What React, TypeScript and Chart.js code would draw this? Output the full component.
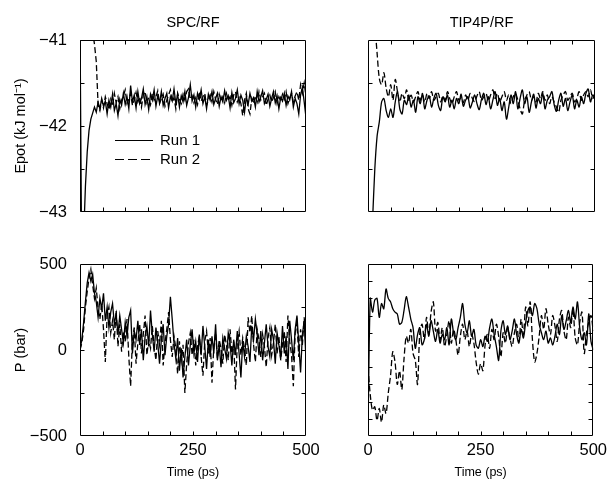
import React, { useEffect, useRef } from 'react';
import { Chart, registerables } from 'chart.js';

Chart.register(...registerables);

const FONT = '"Liberation Sans", Arial, Helvetica, sans-serif';
const W = 612;
const H = 481;

// ---------- labels ----------
const RUN_LABELS = ['Run 1', 'Run 2'];
const PANEL_TITLES = ['SPC/RF', 'TIP4P/RF'];
const X_TITLE = 'Time (ps)';
const EPOT_TITLE = 'Epot (kJ mol\u207B\u00B9)';
const P_TITLE = 'P (bar)';
const X_TICK_LABELS = [0, 250, 500];
const EPOT_TICK_LABELS = [-43, -42, -41];
const P_TICK_LABELS = [-500, 0, 500];

// ---------- sampling grids (ps) ----------
const TIME_SPC = Array.from({ length: 126 }, (_, i) => i * 4);
const TIME_TIP = Array.from({ length: 101 }, (_, i) => i * 5);

// ---------- SPC/RF potential energy (kJ/mol), every 4 ps ----------
const SPC_EPOT_RUN1 = [
  -40.8, -43.8, -43.3, -42.7, -42.3, -42.05, -41.92, -41.85,
  -41.78, -41.84, -41.72, -41.8, -41.68, -41.77, -41.71, -41.86,
  -41.7, -41.78, -41.63, -41.82, -41.74, -41.88, -41.69, -41.76,
  -41.62, -41.75, -41.66, -41.8, -41.53, -41.72, -41.64, -41.79,
  -41.6, -41.74, -41.68, -41.57, -41.75, -41.66, -41.81, -41.63,
  -41.7, -41.58, -41.77, -41.65, -41.73, -41.6, -41.76, -41.68,
  -41.62, -41.79, -41.66, -41.71, -41.57, -41.74, -41.63, -41.78,
  -41.65, -41.72, -41.6, -41.76, -41.67, -41.52, -41.71, -41.64,
  -41.78, -41.62, -41.69, -41.58, -41.74, -41.66, -41.8, -41.63,
  -41.7, -41.6, -41.75, -41.68, -41.62, -41.77, -41.66, -41.72,
  -41.59, -41.7, -41.65, -41.79, -41.61, -41.73, -41.68, -41.58,
  -41.74, -41.64, -41.7, -41.84, -41.66, -41.75, -41.62, -41.71,
  -41.67, -41.78, -41.6, -41.72, -41.66, -41.59, -41.74, -41.69,
  -41.63, -41.77, -41.68, -41.6, -41.73, -41.65, -41.8, -41.67,
  -41.71, -41.62, -41.76, -41.65, -41.7, -41.6, -41.78, -41.68,
  -41.74, -41.86, -41.64, -41.55, -41.72, -41.9,
];
const SPC_EPOT_RUN2 = [
  -39.0, -39.6, -40.0, -40.3, -40.5, -40.65, -40.78, -40.9,
  -41.05, -41.25, -41.75, -41.82, -41.7, -41.79, -41.66, -41.74,
  -41.81, -41.69, -41.77, -41.62, -41.73, -41.66, -41.8, -41.7,
  -41.65, -41.58, -41.74, -41.69, -41.62, -41.76, -41.7, -41.61,
  -41.72, -41.66, -41.78, -41.64, -41.6, -41.73, -41.67, -41.75,
  -41.62, -41.7, -41.66, -41.59, -41.74, -41.68, -41.63, -41.77,
  -41.7, -41.64, -41.58, -41.72, -41.67, -41.8, -41.62, -41.69,
  -41.74, -41.63, -41.7, -41.6, -41.57, -41.69, -41.65, -41.73,
  -41.67, -41.75, -41.6, -41.71, -41.66, -41.62, -41.76, -41.7,
  -41.64, -41.72, -41.6, -41.69, -41.75, -41.63, -41.71, -41.66,
  -41.73, -41.62, -41.7, -41.66, -41.76, -41.64, -41.6, -41.72,
  -41.67, -41.74, -41.88, -41.7, -41.62, -41.8, -41.86, -41.68,
  -41.74, -41.65, -41.72, -41.6, -41.7, -41.66, -41.62, -41.76,
  -41.69, -41.64, -41.72, -41.67, -41.6, -41.74, -41.66, -41.71,
  -41.63, -41.69, -41.6, -41.74, -41.67, -41.62, -41.72, -41.65,
  -41.6, -41.7, -41.52, -41.62, -41.5, -41.66,
];

// ---------- TIP4P/RF potential energy (kJ/mol), every 5 ps ----------
const TIP_EPOT_RUN1 = [
  -44.5, -43.6, -43.1, -42.5, -42.12, -41.95, -41.72, -41.68, -41.82, -41.9, -41.8,
  -41.9, -41.72, -41.6, -41.8, -41.86, -41.7, -41.75, -41.64, -41.78, -41.7,
  -41.84, -41.66, -41.74, -41.62, -41.8, -41.7, -41.65, -41.78, -41.68, -41.62,
  -41.76, -41.82, -41.66, -41.72, -41.64, -41.78, -41.7, -41.8, -41.68, -41.74,
  -41.63, -41.77, -41.7, -41.66, -41.79, -41.72, -41.64, -41.74, -41.81, -41.69,
  -41.62, -41.75, -41.66, -41.8, -41.7, -41.6, -41.76, -41.68, -41.82, -41.72,
  -41.92, -41.78, -41.64, -41.74, -41.6, -41.8, -41.68, -41.58, -41.74, -41.66,
  -41.84, -41.72, -41.63, -41.79, -41.68, -41.74, -41.62, -41.8, -41.7, -41.66,
  -41.6, -41.75, -41.83, -41.7, -41.62, -41.77, -41.68, -41.82, -41.72, -41.64,
  -41.8, -41.7, -41.78, -41.66, -41.74, -41.62, -41.57, -41.72, -41.64, -41.68,
];
const TIP_EPOT_RUN2 = [
  -38.0, -39.5, -40.3, -40.8, -41.15, -41.45, -41.52, -41.38, -41.56, -41.66, -41.52,
  -41.7, -41.46, -41.6, -41.72, -41.62, -41.68, -41.58, -41.7, -41.64, -41.72,
  -41.66, -41.6, -41.7, -41.64, -41.72, -41.62, -41.68, -41.6, -41.7, -41.66,
  -41.62, -41.72, -41.65, -41.7, -41.6, -41.68, -41.74, -41.66, -41.6, -41.7,
  -41.67, -41.73, -41.64, -41.7, -41.62, -41.68, -41.72, -41.65, -41.6, -41.7,
  -41.66, -41.62, -41.71, -41.64, -41.58, -41.68, -41.62, -41.72, -41.66, -41.6,
  -41.7, -41.64, -41.74, -41.66, -41.62, -41.7, -41.8, -41.86, -41.7, -41.64,
  -41.6, -41.7, -41.66, -41.72, -41.62, -41.68, -41.6, -41.7, -41.64, -41.74,
  -41.66, -41.72, -41.78, -41.84, -41.7, -41.64, -41.6, -41.7, -41.66, -41.62,
  -41.72, -41.68, -41.6, -41.7, -41.64, -41.6, -41.66, -41.58, -41.68, -41.62,
];

// ---------- SPC/RF pressure (bar), every 4 ps ----------
const SPC_P_RUN1 = [
  0, 60, 160, 280, 390, 450, 400, 440,
  330, 280, 190, 300, 240, 330, 170, 250,
  130, 220, 270, 150, 210, 90, 200, 120,
  40, 160, 80, 190, 230, -20, 110, 60,
  170, 30, 120, -60, 80, 140, 20, 230,
  90, -10, 130, 40, -80, 60, 150, -30,
  80, 150, 310, 180, 40, -50, 70, -120,
  10, -160, -40, 60, -90, 30, 120, -20,
  50, -70, 90, -30, 140, 20, -110, 60,
  -40, 80, -20, 150, -60, 30, -100, 70,
  10, -50, 100, 40, -90, 60, -30, 110,
  -20, -160, 50, -40, 80, 20, -70, 140,
  60, 180, 90, -30, 110, -60, 40, 150,
  20, -40, 120, 60, -80, 100, 30, -50,
  140, -20, 80, -110, 170, 60, -60, 120,
  200, 40, -130, 90, 170, -60,
];
const SPC_P_RUN2 = [
  0, 40, 120, 250, 340, 420, 470, 380,
  300, 360, 240, 180, 270, 120, -70, 200,
  250, 100, 170, 60, 230, 20, 150, -10,
  110, 50, 180, -40, -210, 60, 130, -80,
  40, 150, -20, 90, 200, -30, 60, 10,
  140, 20, -60, 110, 30, 170, -90, 40,
  120, 220, 60, -40, 80, 10, -140, 50,
  -60, 30, -250, -80, 40, 100, -30, 60,
  -90, 20, 80, -40, -150, 50, 110, -20,
  70, -190, 20, 100, -50, 60, 10, -80,
  90, 30, -60, 120, -20, 50, -230, 40,
  110, -30, 70, 10, -90, 190, 100, 200,
  30, -70, 120, 60, -40, 90, 20, -100,
  70, 130, -30, 40, 150, -20, 80, -60,
  30, 110, -70, 200, 50, -30, -210, 100,
  160, -40, 120, 30, 190, 20,
];

// ---------- TIP4P/RF pressure (bar), every 5 ps ----------
const TIP_P_RUN1 = [
  -480, 300, 220, 290, 300, 190, 270, 240, 355, 300, 280,
  240, 220, 210, 150, 160, 230, 310, 250, 180, 130,
  10, 90, 130, 30, 60, 150, 80, 170, 110, 50,
  120, 40, 90, 60, 130, 30, 180, 100, 60, 130,
  190, 270, 150, 100, 170, 80, 120, 30, 10, 60,
  20, 80, 50, 130, 180, 90, 20, -60, 110, 170,
  90, 140, 60, 110, 180, 90, 40, 120, 70, 160,
  230, 250, 200, 270, 240, 150, 100, 60, 110, 40,
  70, 30, 80, 150, 90, 200, 120, 170, 230, 160,
  250, 180, 280, 130, 60, 100, 30, 210, 50, 0,
];
const TIP_P_RUN2 = [
  -100, -260, -350, -330, -410, -340, -420, -320, -370, -250, -150,
  -10, -70, -200, -120, -230, -50, 80, 40, 120, -20,
  -60, -200, 100, 150, 60, 190, 90, 220, 280, 110,
  160, 60, 130, 20, 90, 170, 40, 120, 60, -30,
  80, 150, 60, 110, 20, 90, 40, -70, -140, -80,
  -120, 30, 90, 10, 120, 60, 150, 80, -40, 100,
  40, 130, 70, 20, 100, 150, 50, 180, 90, 250,
  140, 280, 60, -70, -20, 80, 200, 120, 240, 150,
  90, 200, 140, 50, 180, 230, 110, 60, 190, 130,
  240, 70, 30, 160, 220, -20, 100, 160, 200, 110,
];

// ---------- drawing helpers ----------
const fmt = (v: number) => (v < 0 ? '\u2212' + Math.abs(v) : String(v));
const near = (list: number[], v: number) => list.find((l) => Math.abs(l - v) < 1e-6);

const decoPlugin = {
  id: 'panelDeco',
  afterDatasetsDraw(chart: any, _args: any, opts: any) {
    const { ctx, chartArea: a } = chart;
    const xs = chart.scales.x;
    const ys = chart.scales.y;
    ctx.save();
    ctx.strokeStyle = '#000';
    ctx.lineWidth = 1;
    ctx.setLineDash([]);
    ctx.beginPath();
    const L = Math.round(a.left) + 0.5;
    const R = Math.round(a.right) - 0.5;
    const T = Math.round(a.top) + 0.5;
    const B = Math.round(a.bottom) - 0.5;
    ctx.rect(L, T, R - L, B - T);
    const len = 4;
    xs.ticks.forEach((t: any) => {
      const px = Math.round(xs.getPixelForValue(t.value)) + 0.5;
      if (px <= L + 1 || px >= R - 1) return;
      ctx.moveTo(px, T);
      ctx.lineTo(px, T + len);
      ctx.moveTo(px, B);
      ctx.lineTo(px, B - len);
    });
    ys.ticks.forEach((t: any) => {
      const py = Math.round(ys.getPixelForValue(t.value)) + 0.5;
      if (py <= T + 1 || py >= B - 1) return;
      ctx.moveTo(L, py);
      ctx.lineTo(L + len, py);
      ctx.moveTo(R, py);
      ctx.lineTo(R - len, py);
    });
    ctx.stroke();

    ctx.fillStyle = '#000';
    if (opts.title) {
      ctx.font = `14.5px ${FONT}`;
      ctx.textAlign = 'center';
      ctx.textBaseline = 'middle';
      ctx.fillText(opts.title, (a.left + a.right) / 2, a.top - 17);
    }
    if (opts.legend) {
      ctx.font = `15px ${FONT}`;
      ctx.textAlign = 'left';
      ctx.textBaseline = 'middle';
      chart.data.datasets.forEach((ds: any, i: number) => {
        const y = Math.round(a.top + 100 + i * 19) + 0.5;
        ctx.beginPath();
        ctx.lineWidth = 1.2;
        ctx.setLineDash(i === 0 ? [] : [9, 4]);
        ctx.moveTo(a.left + 35, y);
        ctx.lineTo(a.left + 73, y);
        ctx.stroke();
        ctx.setLineDash([]);
        ctx.fillText(ds.label, a.left + 80, y);
      });
    }
    ctx.restore();
  },
};

type PanelCfg = {
  area: { left: number; right: number; top: number; bottom: number };
  showX: boolean;
  showY: boolean;
  yMin: number;
  yMax: number;
  yStep: number;
  yLabels: number[];
  yTitle: string;
  time: number[];
  run1: number[];
  run2: number[];
  tension: number;
  title?: string;
  legend?: boolean;
};

const Y_AXIS_W = 80;
const X_AXIS_H = 45;

function Panel({ cfg }: { cfg: PanelCfg }) {
  const ref = useRef<HTMLCanvasElement | null>(null);
  useEffect(() => {
    if (!ref.current) return;
    const a = cfg.area;
    const mk = (vals: number[]) => cfg.time.map((t, i) => ({ x: t, y: vals[i] }));
    const chart = new Chart(ref.current, {
      type: 'line',
      data: {
        datasets: [
          {
            label: RUN_LABELS[0],
            data: mk(cfg.run1),
            borderColor: '#000',
            borderWidth: 1.3,
            pointRadius: 0,
            tension: cfg.tension,
            borderDash: [],
          },
          {
            label: RUN_LABELS[1],
            data: mk(cfg.run2),
            borderColor: '#000',
            borderWidth: 1.3,
            pointRadius: 0,
            tension: cfg.tension,
            borderDash: [6, 3],
          },
        ],
      },
      options: {
        animation: false,
        responsive: false,
        maintainAspectRatio: false,
        events: [],
        layout: {
          padding: {
            left: cfg.showY ? a.left - Y_AXIS_W : a.left,
            right: W - a.right,
            top: a.top,
            bottom: cfg.showX ? H - a.bottom - X_AXIS_H : H - a.bottom,
          },
        },
        scales: {
          x: {
            type: 'linear',
            min: 0,
            max: 500,
            grid: { display: false, drawTicks: false },
            border: { display: false },
            ticks: {
              display: cfg.showX,
              stepSize: 50,
              autoSkip: false,
              maxRotation: 0,
              padding: 5,
              color: '#000',
              font: { family: FONT, size: 16.5 },
              callback: (v: any) => {
                const l = near(X_TICK_LABELS, Number(v));
                return l === undefined ? '' : fmt(l);
              },
            },
            title: {
              display: cfg.showX,
              text: X_TITLE,
              color: '#000',
              font: { family: FONT, size: 12.5 },
              padding: { top: 0, bottom: 1 },
            },
            afterFit: (s: any) => {
              s.height = cfg.showX ? X_AXIS_H : 0;
            },
          },
          y: {
            type: 'linear',
            min: cfg.yMin,
            max: cfg.yMax,
            grid: { display: false, drawTicks: false },
            border: { display: false },
            ticks: {
              display: cfg.showY,
              stepSize: cfg.yStep,
              autoSkip: false,
              padding: 13,
              color: '#000',
              font: { family: FONT, size: 16.5 },
              callback: (v: any) => {
                const l = near(cfg.yLabels, Number(v));
                return l === undefined ? '' : fmt(l);
              },
            },
            title: {
              display: cfg.showY,
              text: cfg.yTitle,
              color: '#000',
              font: { family: FONT, size: 14.5 },
              padding: { top: 12, bottom: 0 },
            },
            afterFit: (s: any) => {
              s.width = cfg.showY ? Y_AXIS_W : 0;
            },
          },
        },
        plugins: {
          legend: { display: false },
          tooltip: { enabled: false },
          panelDeco: { title: cfg.title, legend: cfg.legend },
        } as any,
      },
      plugins: [decoPlugin as any],
    });
    return () => chart.destroy();
  }, [cfg]);
  return (
    <canvas
      ref={ref}
      width={W}
      height={H}
      style={{ position: 'absolute', left: 0, top: 0, width: W, height: H }}
    />
  );
}

const PANELS: PanelCfg[] = [
  {
    area: { left: 80, right: 306, top: 40, bottom: 212 },
    showX: false, showY: true,
    yMin: -43, yMax: -41, yStep: 0.5, yLabels: EPOT_TICK_LABELS, yTitle: EPOT_TITLE,
    time: TIME_SPC, run1: SPC_EPOT_RUN1, run2: SPC_EPOT_RUN2, tension: 0,
    title: PANEL_TITLES[0], legend: true,
  },
  {
    area: { left: 368, right: 595, top: 40, bottom: 212 },
    showX: false, showY: false,
    yMin: -43, yMax: -41, yStep: 0.5, yLabels: EPOT_TICK_LABELS, yTitle: EPOT_TITLE,
    time: TIME_TIP, run1: TIP_EPOT_RUN1, run2: TIP_EPOT_RUN2, tension: 0.3,
    title: PANEL_TITLES[1],
  },
  {
    area: { left: 80, right: 306, top: 264, bottom: 436 },
    showX: true, showY: true,
    yMin: -500, yMax: 500, yStep: 250, yLabels: P_TICK_LABELS, yTitle: P_TITLE,
    time: TIME_SPC, run1: SPC_P_RUN1, run2: SPC_P_RUN2, tension: 0,
  },
  {
    area: { left: 368, right: 595, top: 264, bottom: 436 },
    showX: true, showY: false,
    yMin: -500, yMax: 500, yStep: 100, yLabels: P_TICK_LABELS, yTitle: P_TITLE,
    time: TIME_TIP, run1: TIP_P_RUN1, run2: TIP_P_RUN2, tension: 0.3,
  },
];

export default function App() {
  return (
    <div style={{ position: 'fixed', left: 0, top: 0, width: W, height: H, background: '#fff' }}>
      {PANELS.map((p, i) => (
        <Panel key={i} cfg={p} />
      ))}
    </div>
  );
}
